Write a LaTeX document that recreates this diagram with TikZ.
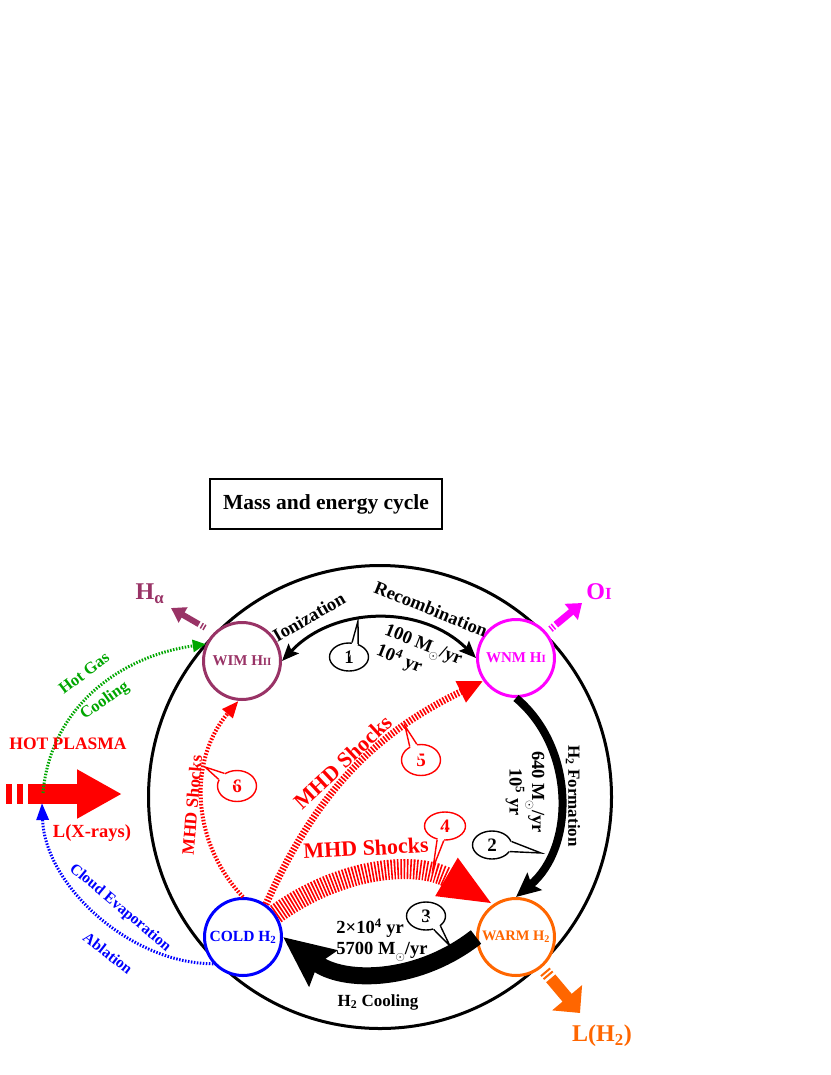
\documentclass[tikz,border=0pt]{standalone}
\usepackage{fontspec}
\setmainfont{Liberation Serif}
\usetikzlibrary{arrows.meta, shapes.geometric}
\definecolor{wimcol}{HTML}{993366}
\definecolor{wnmcol}{HTML}{FF00FF}
\definecolor{coldcol}{HTML}{0000FF}
\definecolor{warmcol}{HTML}{FF6600}
\definecolor{gascol}{HTML}{00A600}
\definecolor{shockcol}{HTML}{FF0000}
\newcommand{\sz}[1]{\fontsize{#1}{#1}\selectfont}
\newcommand{\msun}{M\raisebox{-0.3em}{\sz{12}$\odot$}}
% tail of a speech bubble: [colour]{node}{anchor a}{anchor b}{tip}
\newcommand{\calltail}[5][black]{%
  \fill[white] (#2.#3) -- #5 -- (#2.#4) -- (#2.center) -- cycle;
  \draw[#1, line width=1.4pt, line join=miter] (#2.#3) -- #5 -- (#2.#4);}

\begin{document}
\begin{tikzpicture}[x=1pt, y=1pt,
    state/.style={circle, draw, line width=3pt, fill=white,
                  minimum size=77pt, inner sep=0pt,
                  font=\bfseries\fontsize{15}{17}\selectfont},
    bubble/.style={ellipse, draw, line width=1.4pt, fill=white,
                   minimum width=39pt, minimum height=28pt, inner sep=0pt,
                   font=\bfseries\fontsize{19}{19}\selectfont},
    lbl/.style={font=\bfseries\fontsize{18.5}{21}\selectfont, inner sep=0pt},
    shocklbl/.style={text=shockcol, inner sep=0pt},
    flow/.style={line width=3pt},
    shock/.style={shockcol, dash pattern=on 1.6pt off 1.6pt},
    dots/.style={line width=3pt, dash pattern=on 1.5pt off 1.5pt},
  ]
    \useasboundingbox (0,0) rectangle (830,-1075);

    \node[draw, line width=2.8pt, minimum width=232pt, minimum height=50pt,
          font=\bfseries\fontsize{21.5}{24}\selectfont] (title) at (326,-504) {Mass and energy cycle};

    \node[circle, draw, line width=3pt, minimum size=463pt, inner sep=0pt] (ring) at (380,-797) {};

    % phases
    \node[state, draw=wimcol, text=wimcol] (wim) at (242,-661) {WIM H{\sz{11}II}};
    \node[state, draw=wnmcol, text=wnmcol] (wnm) at (516,-658) {WNM H{\sz{11}I}};
    \node[state, draw=coldcol, text=coldcol, font=\bfseries\fontsize{15.5}{17}\selectfont] (cold) at (243,-937) {COLD H\textsubscript{2}};
    \node[state, draw=warmcol, text=warmcol, font=\bfseries\fontsize{14.5}{17}\selectfont] (warm) at (516,-937) {WARM H\textsubscript{2}};

    % cycle
    \draw[flow, {Stealth[length=17pt, width=14pt, inset=3pt]}-{Stealth[length=17pt, width=14pt, inset=3pt]}] (wim.east) to[bend left=46] (wnm.west);
    \draw[line width=8pt, -{Stealth[length=24pt, width=22pt, inset=4pt]}] (wnm.south) to[bend left=50] (warm.north);
    \draw[line width=17pt, -{Stealth[length=50pt, width=44pt, inset=6pt]}] (warm.west) to[bend left=38] (cold.east);

    % shocks
    \draw[shock, line width=4pt, -{Triangle[length=17pt, width=13pt]}] (cold.north) to[bend left=42] (wim.265);
    \draw[shock, line width=7pt, -{Triangle[length=25pt, width=22pt]}] (cold.55) to[bend left=20] (wnm.215);
    \draw[shock, line width=20pt, -{Triangle[length=54pt, width=40pt]}] (cold.35) to[bend left=33] (warm.125);

    % emission
    \coordinate (ha) at (171,-608);
    \coordinate (oi) at (582,-603);
    \coordinate (lh) at (580,-1013);
    \draw[wimcol, line width=6pt, shorten <=10pt, dash pattern=on 1.5pt off 1.5pt on 1.5pt off 2.5pt on 80pt,
          -{Triangle[length=14pt, width=17pt]}] (wim.135) -- (ha);
    \draw[wnmcol, line width=7pt, shorten <=5pt, dash pattern=on 1.5pt off 1.5pt on 1.5pt off 2.5pt on 80pt,
          -{Triangle[length=14pt, width=20pt]}] (wnm.40) -- (oi);
    \draw[warmcol, line width=12pt, shorten <=5pt, dash pattern=on 2pt off 2pt on 2pt off 3pt on 80pt,
          -{Triangle[length=20pt, width=38pt]}] (warm.310) -- (lh);

    % hot plasma
    \coordinate (xr0) at (6,-794);
    \coordinate (xr1) at (122,-794);
    \draw[shockcol, line width=20pt, dash pattern=on 6pt off 5pt on 6pt off 5pt on 200pt,
          -{Triangle[length=45pt, width=46pt]}] (xr0) -- (xr1);
    \coordinate (gs) at (43,-793);
    \coordinate (bt) at (42,-803);
    \draw[gascol, dots, -{Triangle[length=13pt, width=12pt]}] (gs) to[out=85, in=188] (wim.155);
    \draw[coldcol, dots, -{Triangle[length=17pt, width=12pt]}] (cold.222) to[out=180, in=-88, looseness=0.9] (bt);

    % bubbles
    \node[bubble] (b1) at (349,-657) {1};
    \calltail{b1}{55}{78}{(358,-621)}
    \node[bubble] (b2) at (492,-845) {2};
    \calltail{b2}{10}{340}{(541,-853)}
    \node[bubble] (b3) at (426,-916) {3};
    \calltail{b3}{300}{325}{(450,-946)}
    \node[bubble, draw=shockcol, text=shockcol, minimum width=41pt] (b4) at (445,-826) {4};
    \calltail[shockcol]{b4}{240}{265}{(433,-868)}
    \node[bubble, draw=shockcol, text=shockcol, minimum height=31pt] (b5) at (421,-760) {5};
    \calltail[shockcol]{b5}{105}{130}{(405,-726)}
    \node[bubble, draw=shockcol, text=shockcol, minimum height=31pt] (b6) at (237,-786) {6};
    \calltail[shockcol]{b6}{135}{160}{(205,-767)}

    % labels
    \node[lbl, rotate=30] (ion) at (309,-617) {Ionization};
    \node[lbl, rotate=-22] (rec) at (431,-609) {Recombination};
    \node[lbl, rotate=-22, align=left] (rate1) at (419,-656) {100 \msun/yr\\10\textsuperscript{4} yr};
    \node[lbl, rotate=-90, font=\bfseries\fontsize{17}{20}\selectfont] (form) at (573,-796) {H\textsubscript{2} Formation};
    \node[lbl, rotate=-90, align=center] (rate2) at (525,-792) {640 \msun/yr\\10\textsuperscript{5} yr};
    \node[lbl, align=left] (rate3) at (382,-940) {2×10\textsuperscript{4} yr\\5700 \msun/yr};
    \node[lbl, font=\bfseries\fontsize{17}{20}\selectfont] (cool) at (378,-1002) {H\textsubscript{2} Cooling};

    \node[shocklbl, rotate=85, font=\bfseries\fontsize{17.5}{20}\selectfont] (s6lab) at (192,-805) {MHD Shocks};
    \node[shocklbl, rotate=43, font=\bfseries\fontsize{22}{24}\selectfont] (s5lab) at (343,-762) {MHD Shocks};
    \node[shocklbl, rotate=3, font=\bfseries\fontsize{22}{24}\selectfont] (s4lab) at (366,-848) {MHD Shocks};

    \node[text=shockcol, font=\bfseries\fontsize{17.5}{20}\selectfont] (plasma) at (68,-744) {HOT PLASMA};
    \node[text=shockcol, font=\bfseries\fontsize{18.5}{20}\selectfont] (xlab) at (92,-833) {L(X-rays)};
    \node[text=gascol, rotate=37, font=\bfseries\fontsize{16.5}{18}\selectfont] (hotgas) at (84,-673) {Hot Gas};
    \node[text=gascol, rotate=35, font=\bfseries\fontsize{16.5}{18}\selectfont] (gascool) at (105,-701) {Cooling};
    \node[text=coldcol, rotate=-40, font=\bfseries\fontsize{15.5}{18}\selectfont] (evap) at (120,-908) {Cloud Evaporation};
    \node[text=coldcol, rotate=-38, font=\bfseries\fontsize{15.5}{18}\selectfont] (abl) at (108,-953) {Ablation};

    \node[text=wimcol, font=\bfseries\fontsize{24}{26}\selectfont] (halab) at (150,-594) {H\textsubscript{α}};
    \node[text=wnmcol, font=\bfseries\fontsize{24}{26}\selectfont] (oilab) at (599,-592) {O{\sz{17}I}};
    \node[text=warmcol, font=\bfseries\fontsize{24}{26}\selectfont] (lhlab) at (602,-1036) {L(H\textsubscript{2})};
\end{tikzpicture}
\end{document}
